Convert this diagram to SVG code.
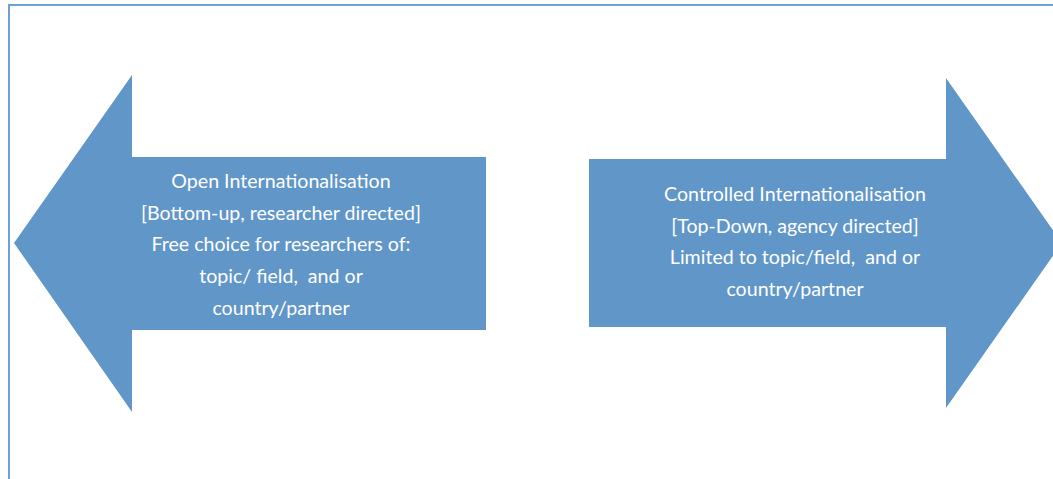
<svg xmlns="http://www.w3.org/2000/svg" width="1053" height="479" viewBox="0 0 1053 479">
<style>
.arrow{fill:#6196c9}
.frame{fill:none;stroke:#6f9fd6;stroke-width:2}
.lbl{font-family:Lato,"Open Sans","Liberation Sans",sans-serif;font-size:19.6px;fill:#ffffff;text-anchor:middle;white-space:pre}
</style>
<rect width="1053" height="479" fill="#ffffff"/>
<path class="frame" d="M9,479 V5 H1053"/>
<g id="node-open">
<path class="arrow" d="M14,243 L132,75 L132,157 L486,157 L486,330 L132,330 L132,412 Z"/>
<text class="lbl" x="281" y="188">Open Internationalisation</text>
<text class="lbl" x="281" y="220">[Bottom-up, researcher directed]</text>
<text class="lbl" x="281" y="251">Free choice for researchers of:</text>
<text class="lbl" x="281" y="283">topic/ field,  and or</text>
<text class="lbl" x="281" y="315">country/partner</text>
</g>
<g id="node-controlled">
<path class="arrow" d="M1062,243 L946,78 L946,159 L589,159 L589,327 L946,327 L946,408 Z"/>
<text class="lbl" x="795" y="201">Controlled Internationalisation</text>
<text class="lbl" x="795" y="233">[Top-Down, agency directed]</text>
<text class="lbl" x="795" y="264">Limited to topic/field,  and or</text>
<text class="lbl" x="795" y="296">country/partner</text>
</g>
<g id="connectors"></g>
</svg>
